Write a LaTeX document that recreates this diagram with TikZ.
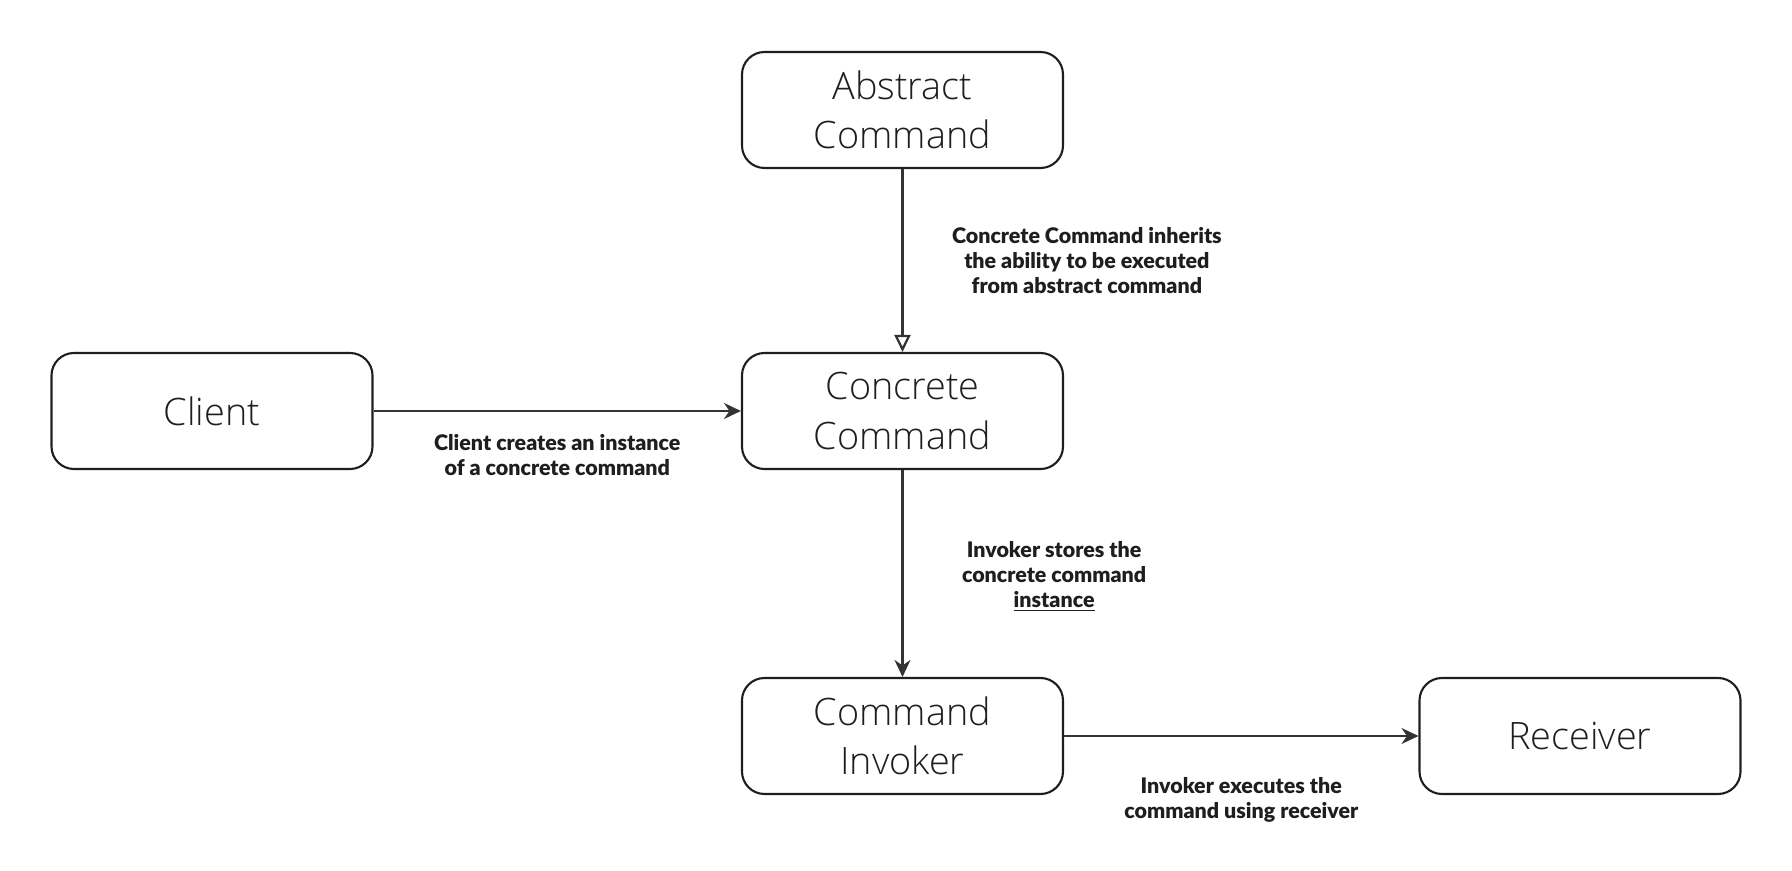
\documentclass[tikz,border=0pt]{standalone}
\usepackage{fontspec}
\setmainfont{Open Sans}[UprightFont={* Light}]
\newfontfamily\notefont{Lato}[BoldFont={* Black}]
\usepackage{tikz}
\usetikzlibrary{positioning,arrows.meta}

\definecolor{ink}{HTML}{1E1E1E}
\definecolor{wire}{HTML}{333333}

\begin{document}
\begin{tikzpicture}[
  box/.style={rectangle, draw=ink, line width=1.2pt, rounded corners=0.45cm,
    minimum width=6.42cm, minimum height=2.32cm, align=center, text=ink,
    font=\fontsize{21.5}{28}\selectfont},
  note/.style={font=\notefont\bfseries\fontsize{12.2}{14.4}\selectfont, align=center, text=ink},
  link/.style={draw=wire, line width=1.3pt, -{Stealth[length=0.34cm, width=0.32cm]}},
  inherit/.style={draw=wire, line width=1.3pt, -{Triangle[open, length=0.34cm, width=0.32cm]}}
]
\useasboundingbox (0,0) rectangle (35.84,-17.42);

% boxes
\node[box] (abstract) at (18.05,-2.2) {Abstract\\Command};
\node[box] (concrete) at (18.05,-8.22) {Concrete\\Command};
\node[box] (client) at (4.24,-8.22) {Client};
\node[box] (invoker) at (18.05,-14.72) {Command\\Invoker};
\node[box] (receiver) at (31.6,-14.72) {Receiver};

% connectors
\draw[inherit] (abstract) -- node[note, right=0.85cm] {Concrete Command inherits\\the ability to be executed\\from abstract command} (concrete);
\draw[link] (client) -- node[note, below=0.33cm] {Client creates an instance\\of a concrete command} (concrete);
\draw[link] (concrete) -- node[note, right=1.05cm, yshift=-0.06cm] {Invoker stores the\\concrete command\\\underline{instance}} (invoker);
\draw[link] (invoker) -- node[note, below=0.68cm] {Invoker executes the\\command using receiver} (receiver);

\end{tikzpicture}
\end{document}
